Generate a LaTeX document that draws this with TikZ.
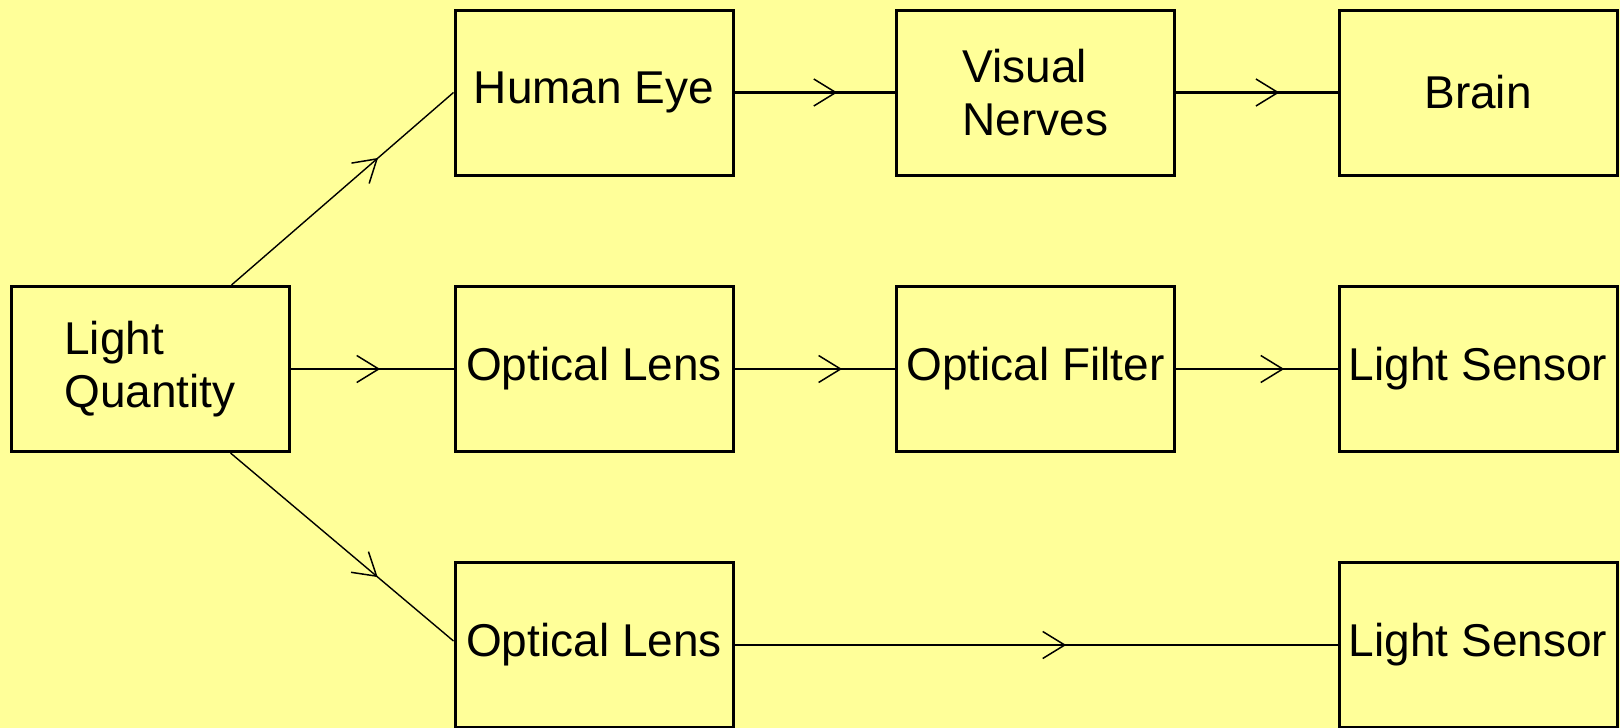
\documentclass[tikz,border=0pt]{standalone}
\usepackage{fontspec}
\setmainfont{Liberation Sans}
\usetikzlibrary{arrows.meta,decorations.markings}
\definecolor{paleyellow}{RGB}{255,255,153}

\begin{document}
\begin{tikzpicture}[x=1pt,y=-1pt,
  box/.style={draw, line width=3pt, minimum width=278pt, minimum height=165pt, inner sep=0pt, align=left, font=\fontsize{46}{53}\selectfont},
  link/.style={line width=2.7pt},
  slant/.style={line width=1.4pt},
  midarrow/.style={postaction={decorate}, decoration={markings, mark=at position #1 with {\arrow[line width=1.5pt]{Straight Barb[length=22pt,width=27pt]}}}}]
\useasboundingbox (0,0) rectangle (1620,728);
\fill[paleyellow] (0,0) rectangle (1620,728);
\node[box] (lq) at (150,369) {Light\\Quantity};
\node[box] (eye) at (594,92.5) {Human Eye};
\node[box] (nerves) at (1035.5,92.5) {Visual\\Nerves};
\node[box] (brain) at (1478,92.5) {Brain};
\node[box] (lens) at (594,369) {Optical Lens};
\node[box] (filter) at (1035.5,369) {Optical Filter};
\node[box] (sensor) at (1478,369) {Light Sensor};
\node[box] (lensb) at (594,645) {Optical Lens};
\node[box] (sensorb) at (1478,645) {Light Sensor};
\draw[slant, midarrow=0.66] ([xshift=-59pt]lq.north east) -- (eye.west);
\draw[slant, midarrow=0.66] ([xshift=-60pt]lq.south east) -- ([yshift=4pt]lensb.west);
\draw[link, midarrow=0.55] (lq) -- (lens);
\draw[link, midarrow=0.64] (eye) -- (nerves);
\draw[link, midarrow=0.64] (nerves) -- (brain);
\draw[link, midarrow=0.67] (lens) -- (filter);
\draw[link, midarrow=0.67] (filter) -- (sensor);
\draw[link, midarrow=0.55] (lensb) -- (sensorb);
\end{tikzpicture}
\end{document}
